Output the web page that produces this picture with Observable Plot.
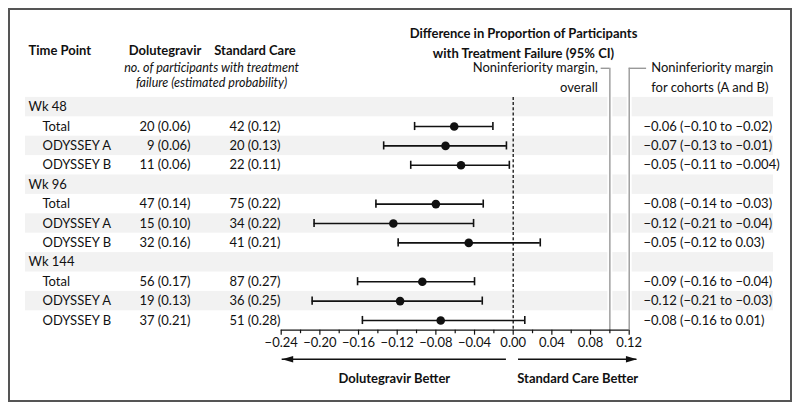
<!DOCTYPE html>
<html><head><meta charset="utf-8">
<script src="https://cdn.jsdelivr.net/npm/d3@7"></script>
<script src="https://cdn.jsdelivr.net/npm/@observablehq/plot@0.6"></script>
<style>
body{margin:0;background:#fff;}
#wrap{position:relative;width:800px;height:410px;}
#border{position:absolute;left:8px;top:8px;width:784px;height:394px;box-sizing:border-box;border:2px solid #555;}
#chart{position:absolute;left:0;top:0;}
</style></head><body>
<div id="wrap"><div id="chart"></div><div id="border"></div></div>
<script>
// ---- data ----
const rowLabels = ["Wk 48","Total","ODYSSEY A","ODYSSEY B","Wk 96","Total","ODYSSEY A","ODYSSEY B","Wk 144","Total","ODYSSEY A","ODYSSEY B"];
const isHeader = [true,false,false,false,true,false,false,false,true,false,false,false];
const dolutegravir = ["","20 (0.06)","9 (0.06)","11 (0.06)","","47 (0.14)","15 (0.10)","32 (0.16)","","56 (0.17)","19 (0.13)","37 (0.21)"];
const standardCare = ["","42 (0.12)","20 (0.13)","22 (0.11)","","75 (0.22)","34 (0.22)","41 (0.21)","","87 (0.27)","36 (0.25)","51 (0.28)"];
const estimate = [null,-0.061,-0.070,-0.054,null,-0.080,-0.124,-0.046,null,-0.094,-0.117,-0.075];
const lower    = [null,-0.102,-0.134,-0.106,null,-0.142,-0.206,-0.119,null,-0.161,-0.208,-0.156];
const upper    = [null,-0.021,-0.007,-0.004,null,-0.031,-0.041,0.028,null,-0.040,-0.032,0.012];
const ciLabels = ["","−0.06 (−0.10 to −0.02)","−0.07 (−0.13 to −0.01)","−0.05 (−0.11 to −0.004)","","−0.08 (−0.14 to −0.03)","−0.12 (−0.21 to −0.04)","−0.05 (−0.12 to 0.03)","","−0.09 (−0.16 to −0.04)","−0.12 (−0.21 to −0.03)","−0.08 (−0.16 to 0.01)"];
const majorTicks = [-0.24,-0.20,-0.16,-0.12,-0.08,-0.04,0.00,0.04,0.08,0.12];
const minorTicks = [-0.22,-0.18,-0.14,-0.10,-0.06,-0.02,0.02,0.06,0.10];
const marginOverall = 0.10;
const marginCohorts = 0.12;
const arrowFrom = [-0.007, 0.0055];
const arrowTo = [-0.239, 0.128];
const arrowLabels = ["Dolutegravir Better","Standard Care Better"];

// ---- derived ----
const rows = d3.range(rowLabels.length);
const headerRows = rows.filter(i => isHeader[i]);
const itemRows = rows.filter(i => !isHeader[i]);
const bandRows = rows.filter(i => i % 2 === 0);
const dataRows = rows.filter(i => estimate[i] != null);
const arrows = d3.range(arrowLabels.length);
const ink = "#111";
const font = "Lato, 'Open Sans', sans-serif";
const headLeft = {draw(ctx){ctx.moveTo(0,0);ctx.lineTo(11,-3.2);ctx.lineTo(11,3.2);ctx.closePath();}};
const headRight = {draw(ctx){ctx.moveTo(0,0);ctx.lineTo(-11,-3.2);ctx.lineTo(-11,3.2);ctx.closePath();}};
const L = 25; // marginLeft
const hdr = (label, x, y, opts = {}) => Plot.text([label], {text: d => d, frameAnchor: "top-left", lineAnchor: "middle", dx: x - L, dy: y, fill: ink, ...opts});

const chart = Plot.plot({
  width: 800, height: 410,
  marginLeft: L, marginRight: 27, marginTop: 0, marginBottom: 80.3,
  style: {fontFamily: font, fontSize: "13px", color: ink, background: "transparent"},
  x: {domain: [-0.24, 0.12], range: [280.7, 628.7], axis: null},
  y: {domain: [-0.5, 11.5], range: [96.9, 329.7], axis: null},
  marks: [
    Plot.rect(bandRows, {y1: d => d - 0.5, y2: d => d + 0.5, fill: "#f2f2f2"}),
    Plot.ruleX([marginOverall, marginCohorts], {x: d => d, y1: -2, y2: 11.5, stroke: "white", strokeWidth: 5}),
    Plot.ruleX([marginOverall, marginCohorts], {x: d => d, y1: -2, y2: 11.5, stroke: "#999", strokeWidth: 1.4}),
    Plot.ruleY([-2], {x1: marginOverall - 0.009, x2: marginOverall, stroke: "#999", strokeWidth: 1.4}),
    Plot.ruleY([-2], {x1: marginCohorts, x2: marginCohorts + 0.018, stroke: "#999", strokeWidth: 1.4}),
    Plot.ruleX([0], {y1: -0.5, y2: 11.5, stroke: ink, strokeWidth: 1.3, strokeDasharray: "3,2.2"}),
    Plot.ruleY([11.5], {x1: -0.24, x2: 0.12, stroke: ink, strokeWidth: 1.2}),
    Plot.axisX({ticks: majorTicks, tickSize: 5, tickPadding: 3, tickFormat: d3.format(".2f"), label: null, strokeWidth: 1.2}),
    Plot.axisX({ticks: minorTicks, tickSize: 3.5, tickFormat: () => "", label: null, strokeWidth: 1.2}),
    Plot.ruleY(dataRows, {y: d => d, x1: d => lower[d], x2: d => upper[d], stroke: ink, strokeWidth: 1.6}),
    Plot.ruleX(dataRows, {x: d => lower[d], y1: d => d - 0.21, y2: d => d + 0.21, stroke: ink, strokeWidth: 1.6}),
    Plot.ruleX(dataRows, {x: d => upper[d], y1: d => d - 0.21, y2: d => d + 0.21, stroke: ink, strokeWidth: 1.6}),
    Plot.dot(dataRows, {x: d => estimate[d], y: d => d, r: 4.3, fill: ink, stroke: "none"}),
    // table text
    Plot.text(headerRows, {y: d => d, text: d => rowLabels[d], frameAnchor: "left", dx: 3, textAnchor: "start", fill: ink}),
    Plot.text(itemRows, {y: d => d, text: d => rowLabels[d], frameAnchor: "left", dx: 17, textAnchor: "start", fill: ink}),
    Plot.text(itemRows, {y: d => d, text: d => dolutegravir[d], frameAnchor: "left", dx: 165, textAnchor: "end", fill: ink}),
    Plot.text(itemRows, {y: d => d, text: d => standardCare[d], frameAnchor: "left", dx: 255, textAnchor: "end", fill: ink}),
    Plot.text(itemRows, {y: d => d, text: d => ciLabels[d], frameAnchor: "left", dx: 618, textAnchor: "start", fill: ink}),
    // headers
    hdr("Time Point", 28, 50, {textAnchor: "start", fontWeight: "bold"}),
    hdr("Dolutegravir", 164.5, 50, {textAnchor: "middle", fontWeight: "bold"}),
    hdr("Standard Care", 254.5, 50, {textAnchor: "middle", fontWeight: "bold"}),
    hdr("no. of participants with treatment", 211, 67.5, {textAnchor: "middle", fontStyle: "italic", fontSize: 12.5}),
    hdr("failure (estimated probability)", 211, 82.5, {textAnchor: "middle", fontStyle: "italic", fontSize: 12.5}),
    hdr("Difference in Proportion of Participants", 523, 33, {textAnchor: "middle", fontWeight: "bold"}),
    hdr("with Treatment Failure (95% CI)", 523, 53, {textAnchor: "middle", fontWeight: "bold"}),
    // margin annotations
    Plot.text([marginOverall], {x: d => d, y: -2, text: ["Noninferiority margin,"], dx: -12, textAnchor: "end", fill: ink}),
    Plot.text([marginOverall], {x: d => d, y: -2, text: ["overall"], dx: -12, dy: 19.5, textAnchor: "end", fill: ink}),
    Plot.text([marginCohorts], {x: d => d, y: -2, text: ["Noninferiority margin"], dx: 22, textAnchor: "start", fill: ink}),
    Plot.text([marginCohorts], {x: d => d, y: -2, text: ["for cohorts (A and B)"], dx: 22, dy: 19.5, textAnchor: "start", fill: ink}),
    // direction arrows
    Plot.ruleY(arrows, {y: 13, x1: d => arrowFrom[d], x2: d => arrowTo[d], stroke: ink, strokeWidth: 1.4}),
    Plot.dot([0], {x: d => arrowTo[d], y: 13, symbol: headLeft, fill: ink, stroke: "none"}),
    Plot.dot([1], {x: d => arrowTo[d], y: 13, symbol: headRight, fill: ink, stroke: "none"}),
    Plot.text(arrows, {x: d => (arrowFrom[d] + arrowTo[d]) / 2, y: 14, text: d => arrowLabels[d], fontWeight: "bold", fill: ink})
  ]
});
document.getElementById("chart").append(chart);
</script>
</body></html>
